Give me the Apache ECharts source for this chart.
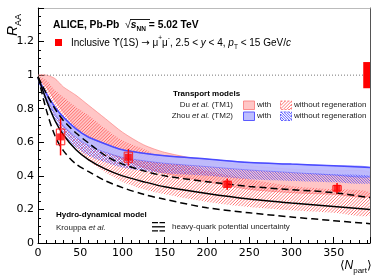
<!DOCTYPE html>
<html><head><meta charset="utf-8">
<script src="https://cdn.jsdelivr.net/npm/echarts@6.0.0/dist/echarts.min.js"></script>
<style>html,body{margin:0;padding:0;background:#fff}#c{width:382px;height:277px}</style>
</head><body><div id="c"></div>
<script>
// ---- data ----
const npartGrid = [0, 10, 20, 30, 45, 60, 80, 100, 125, 150, 200, 250, 300, 350, 393];
// Hydro-dynamical model (Krouppa et al.)
const hydroCentral = [0.99, 0.85, 0.73, 0.645, 0.555, 0.495, 0.44, 0.40, 0.365, 0.335, 0.295, 0.262, 0.238, 0.218, 0.20];
const hydroUpper   = [0.99, 0.89, 0.80, 0.73, 0.655, 0.595, 0.52, 0.47, 0.43, 0.40, 0.365, 0.337, 0.318, 0.30, 0.27];
const hydroLower   = [0.99, 0.79, 0.64, 0.55, 0.47, 0.425, 0.37, 0.33, 0.29, 0.26, 0.21, 0.18, 0.155, 0.133, 0.115];
// TM1 (Du et al.)
const tm1RegenHi   = [1.00, 1.00, 0.98, 0.93, 0.88, 0.82, 0.74, 0.66, 0.585, 0.54, 0.49, 0.46, 0.44, 0.43, 0.42];
const tm1RegenLo   = [0.98, 0.93, 0.85, 0.78, 0.69, 0.62, 0.55, 0.50, 0.45, 0.415, 0.365, 0.32, 0.30, 0.29, 0.28];
const tm1NoRegenHi = [0.99, 0.97, 0.91, 0.87, 0.81, 0.76, 0.68, 0.61, 0.56, 0.50, 0.43, 0.38, 0.34, 0.32, 0.30];
const tm1NoRegenLo = [0.98, 0.86, 0.76, 0.67, 0.57, 0.49, 0.42, 0.365, 0.32, 0.29, 0.245, 0.215, 0.195, 0.18, 0.165];
// TM2 (Zhou et al.)
const tm2RegenHi   = [0.98, 0.89, 0.81, 0.75, 0.68, 0.63, 0.59, 0.555, 0.535, 0.52, 0.50, 0.48, 0.47, 0.46, 0.45];
const tm2RegenLo   = [0.97, 0.86, 0.77, 0.70, 0.63, 0.58, 0.54, 0.51, 0.49, 0.475, 0.455, 0.435, 0.42, 0.405, 0.395];
const tm2NoRegenHi = [0.97, 0.86, 0.77, 0.70, 0.63, 0.58, 0.54, 0.51, 0.49, 0.475, 0.455, 0.435, 0.42, 0.41, 0.40];
const tm2NoRegenLo = [0.96, 0.83, 0.73, 0.65, 0.57, 0.52, 0.48, 0.45, 0.43, 0.415, 0.40, 0.38, 0.37, 0.362, 0.355];
// ALICE data
const dataNpart = [26.7, 107, 224, 354];
const dataRaa   = [0.632, 0.511, 0.35, 0.326];
const dataStat  = [0.11, 0.05, 0.033, 0.031];
const dataSyst  = [0.047, 0.03, 0.018, 0.016];
const boxHalfWidth = 5;
const globalUnc = [385, 393, 1, 0.078]; // xFrom, xTo, centre, half-height
const xTicks = [0, 50, 100, 150, 200, 250, 300, 350];
const yTicks = [0, 0.2, 0.4, 0.6, 0.8, 1, 1.2];

// ---- style constants ----
const PINK_FILL = 'rgba(255,120,120,0.42)';
const PINK_LINE = 'rgba(255,95,95,0.85)';
const BLUE_FILL = 'rgba(185,185,255,0.92)';
const BLUE_LINE = 'rgba(60,60,255,0.85)';

// hatch line segments inside a pixel rectangle
function hatchSegs(x0, y0, w, h, step, dir) {
  const out = [];
  if (dir === '/') {
    for (let d = step / 2; d < w + h; d += step) {
      const u1 = Math.max(0, d - h), u2 = Math.min(w, d);
      out.push([x0 + u1, y0 + d - u1, x0 + u2, y0 + d - u2]);
    }
  } else {
    for (let d = -h + step / 2; d < w; d += step) {
      const u1 = Math.max(0, d), u2 = Math.min(w, d + h);
      out.push([x0 + u1, y0 + u1 - d, x0 + u2, y0 + u2 - d]);
    }
  }
  return out;
}
function segEls(segs, color, lw) {
  return segs.map(s => ({ type: 'line', shape: { x1: s[0], y1: s[1], x2: s[2], y2: s[3] }, style: { stroke: color, lineWidth: lw } }));
}

function bandPoints(api, upper, lower) {
  const pts = [];
  for (let i = 0; i < npartGrid.length; i++) pts.push(api.coord([npartGrid[i], upper[i]]));
  for (let i = npartGrid.length - 1; i >= 0; i--) pts.push(api.coord([npartGrid[i], lower[i]]));
  return pts;
}
function band(upper, lower, style, z) {
  return {
    type: 'custom', coordinateSystem: 'cartesian2d', clip: true, silent: true, z: z,
    data: [[100, 0.5]], encode: { x: 0, y: 1 },
    renderItem: function (params, api) {
      return { type: 'polygon', shape: { points: bandPoints(api, upper, lower), smooth: 0.25 }, style: style };
    }
  };
}
function hatchBand(upper, lower, color, step, dir, lw, z) {
  return {
    type: 'custom', coordinateSystem: 'cartesian2d', clip: true, silent: true, z: z,
    data: [[100, 0.5]], encode: { x: 0, y: 1 },
    renderItem: function (params, api) {
      const cs = params.coordSys;
      return {
        type: 'group',
        clipPath: { type: 'polygon', shape: { points: bandPoints(api, upper, lower), smooth: 0.25 } },
        children: segEls(hatchSegs(cs.x, cs.y, cs.width, cs.height, step, dir), color, lw)
      };
    }
  };
}
function curve(vals, color, width, type, z) {
  return {
    type: 'line', data: npartGrid.map((x, i) => [x, vals[i]]), smooth: 0.3, symbol: 'none', silent: true, z: z,
    lineStyle: { color: color, width: width, type: type }
  };
}
function swatchHatch(x, y, w, h, color, step, dir, border) {
  return { type: 'group', children: segEls(hatchSegs(x, y, w, h, step, dir), color, 1).concat([
    { type: 'rect', shape: { x: x, y: y, width: w, height: h }, style: { fill: null, stroke: border, lineWidth: 1, lineDash: [2, 1.5] } }
  ]) };
}

const chart = echarts.init(document.getElementById('c'), null, { renderer: 'canvas' });
const axisFont = 'DejaVu Sans';
const TF = 'Liberation Sans';
const option = {
  animation: false,
  grid: { left: 38, right: 12, top: 8, bottom: 34 },
  xAxis: [{
    type: 'value', min: 0, max: 393, interval: 50,
    axisLine: { onZero: false, lineStyle: { color: '#000', width: 1 } },
    axisTick: { inside: true, length: 6, lineStyle: { color: '#000' } },
    minorTick: { show: true, splitNumber: 5, length: 3, lineStyle: { color: '#000' } },
    axisLabel: { fontSize: 11, color: '#000', fontFamily: axisFont, margin: 5, showMaxLabel: false,
      formatter: v => (xTicks.indexOf(v) >= 0 ? String(v) : '') },
    splitLine: { show: false }
  }, {
    type: 'value', position: 'top', min: 0, max: 393,
    axisLine: { onZero: false, lineStyle: { color: '#bbb' } }, axisTick: { show: false }, axisLabel: { show: false }, splitLine: { show: false }
  }],
  yAxis: [{
    type: 'value', min: 0, max: 1.4, interval: 0.2,
    axisLine: { onZero: false, lineStyle: { color: '#000', width: 1 } },
    axisTick: { inside: true, length: 6, lineStyle: { color: '#000' } },
    minorTick: { show: true, splitNumber: 4, length: 3, lineStyle: { color: '#000' } },
    axisLabel: { fontSize: 11, color: '#000', fontFamily: axisFont, margin: 4, showMaxLabel: false,
      formatter: v => (yTicks.some(t => Math.abs(t - v) < 1e-6) ? String(+v.toFixed(1)) : '') },
    splitLine: { show: false }
  }, {
    type: 'value', position: 'right', min: 0, max: 1.4,
    axisLine: { onZero: false, lineStyle: { color: '#555' } }, axisTick: { show: false }, axisLabel: { show: false }, splitLine: { show: false }
  }],
  series: [
    band(tm1RegenHi, tm1RegenLo, { fill: PINK_FILL, stroke: 'rgba(250,120,120,0.6)', lineWidth: 1 }, 1),
    hatchBand(tm1NoRegenHi, tm1NoRegenLo, PINK_LINE, 3.2, '/', 1, 2),
    band(tm2RegenHi, tm2RegenLo, { fill: BLUE_FILL, stroke: 'rgba(110,110,255,0.6)', lineWidth: 1 }, 3),
    hatchBand(tm2NoRegenHi, tm2NoRegenLo, BLUE_LINE, 2.6, '\\', 0.9, 4),
    curve(tm2RegenHi, '#4a4aff', 1.5, 'solid', 5),
    curve(hydroCentral, '#000', 1.5, 'solid', 6),
    curve(hydroUpper, '#000', 1.5, [7, 4], 6),
    curve(hydroLower, '#000', 1.5, [7, 4], 6),
    {
      type: 'line', data: [[0, 1], [393, 1]], symbol: 'none', silent: true, z: 7,
      lineStyle: { color: '#777', width: 1, type: [1, 2] }
    },
    {
      type: 'custom', coordinateSystem: 'cartesian2d', clip: false, silent: true, z: 8,
      data: dataNpart.map((x, i) => [x, dataRaa[i], dataStat[i], dataSyst[i]]),
      renderItem: function (params, api) {
        const x = api.value(0), y = api.value(1), st = api.value(2), sy = api.value(3);
        const pHi = api.coord([x, y + st]), pLo = api.coord([x, y - st]);
        const b1 = api.coord([x - boxHalfWidth, y + sy]), b2 = api.coord([x + boxHalfWidth, y - sy]);
        return { type: 'group', children: [
          { type: 'line', shape: { x1: pHi[0], y1: pHi[1], x2: pLo[0], y2: pLo[1] }, style: { stroke: '#ff0000', lineWidth: 1.5 } },
          { type: 'rect', shape: { x: b1[0], y: b1[1], width: b2[0] - b1[0], height: b2[1] - b1[1] }, style: { fill: null, stroke: '#ff2020', lineWidth: 1 } }
        ] };
      }
    },
    {
      type: 'scatter', data: dataNpart.map((x, i) => [x, dataRaa[i]]), symbol: 'rect', symbolSize: 7, z: 9, silent: true,
      itemStyle: { color: '#ff0000' }
    },
    {
      type: 'custom', coordinateSystem: 'cartesian2d', clip: true, silent: true, z: 9,
      data: [globalUnc],
      renderItem: function (params, api) {
        const a = api.coord([api.value(0), api.value(2) + api.value(3)]);
        const b = api.coord([api.value(1), api.value(2) - api.value(3)]);
        return { type: 'rect', shape: { x: a[0], y: a[1], width: b[0] - a[0], height: b[1] - a[1] }, style: { fill: '#ff0000' } };
      }
    }
  ],
  graphic: { elements: [
    // y title
    { type: 'text', x: 6, y: 36, rotation: Math.PI / 2, style: {
      text: '{r|R}{s|AA}', verticalAlign: 'top',
      rich: { r: { font: 'italic 14px ' + TF, fill: '#000', lineHeight: 14, verticalAlign: 'top' },
              s: { font: '9px ' + TF, fill: '#000', lineHeight: 17, verticalAlign: 'bottom' } } } },
    // x title
    { type: 'text', x: 372, y: 266, style: {
      text: '{a|⟨}{n|N}{s|part}{a|⟩}', align: 'right', verticalAlign: 'middle',
      rich: { a: { font: '12px ' + TF, fill: '#000', lineHeight: 14 },
              n: { font: 'italic 12px ' + TF, fill: '#000', lineHeight: 14 },
              s: { font: '8px ' + TF, fill: '#000', lineHeight: 18, verticalAlign: 'bottom' } } } },
    // header
    { type: 'text', x: 53, y: 25, style: {
      text: '{b|ALICE, Pb-Pb  }{r|√}{bi|s}{s|NN}{b| = 5.02 TeV}', verticalAlign: 'middle',
      rich: { b: { font: 'bold 10.3px ' + TF, fill: '#000', lineHeight: 12 },
              r: { font: '10.5px ' + TF, fill: '#000', lineHeight: 12 },
              bi: { font: 'bold italic 10.3px ' + TF, fill: '#000', lineHeight: 12 },
              s: { font: 'bold 6.5px ' + TF, fill: '#000', lineHeight: 16, verticalAlign: 'bottom' } } } },
    { type: 'line', shape: { x1: 130, y1: 19.5, x2: 150, y2: 19.5 }, style: { stroke: '#000', lineWidth: 0.9 } },
    { type: 'rect', shape: { x: 55, y: 39, width: 7, height: 7 }, style: { fill: '#ff0000' } },
    { type: 'text', x: 71, y: 43, style: {
      text: '{n|Inclusive }{u|ϒ}{n|(1S) }{u|→}{n| μ}{p|+}{n|μ}{p|-}{n|, 2.5 < }{i|y}{n| < 4, }{i|p}{s|T}{n| < 15 GeV/}{i|c}', verticalAlign: 'middle',
      rich: { n: { font: '10px ' + TF, fill: '#000', lineHeight: 12 },
              u: { font: '10px DejaVu Sans', fill: '#000', lineHeight: 12 },
              i: { font: 'italic 10px ' + TF, fill: '#000', lineHeight: 12 },
              p: { font: '6.5px ' + TF, fill: '#000', lineHeight: 16, verticalAlign: 'top' },
              s: { font: '6.5px ' + TF, fill: '#000', lineHeight: 16, verticalAlign: 'bottom' } } } },
    // transport models legend
    { type: 'text', x: 173, y: 94, style: { text: 'Transport models', font: 'bold 8px ' + TF, fill: '#000', verticalAlign: 'middle' } },
    { type: 'text', x: 233, y: 105, style: { text: '{n|Du }{i|et al.}{n| (TM1)}', align: 'right', verticalAlign: 'middle',
      rich: { n: { font: '8px ' + TF, fill: '#222' }, i: { font: 'italic 8px ' + TF, fill: '#222' } } } },
    { type: 'text', x: 233, y: 116, style: { text: '{n|Zhou }{i|et al.}{n| (TM2)}', align: 'right', verticalAlign: 'middle',
      rich: { n: { font: '8px ' + TF, fill: '#222' }, i: { font: 'italic 8px ' + TF, fill: '#222' } } } },
    { type: 'rect', shape: { x: 243.5, y: 101, width: 11, height: 8.5 }, style: { fill: PINK_FILL, stroke: 'rgba(250,120,120,0.8)', lineWidth: 1 } },
    { type: 'text', x: 257, y: 105, style: { text: 'with', font: '8px ' + TF, fill: '#222', verticalAlign: 'middle' } },
    swatchHatch(280.5, 101, 11, 8.5, PINK_LINE, 3.2, '/', 'rgba(255,110,110,0.8)'),
    { type: 'text', x: 294, y: 105, style: { text: 'without regeneration', font: '8px ' + TF, fill: '#222', verticalAlign: 'middle' } },
    { type: 'rect', shape: { x: 243.5, y: 112, width: 11, height: 8.5 }, style: { fill: BLUE_FILL, stroke: '#5a5aff', lineWidth: 1 } },
    { type: 'text', x: 257, y: 116, style: { text: 'with', font: '8px ' + TF, fill: '#222', verticalAlign: 'middle' } },
    swatchHatch(280.5, 112, 11, 8.5, BLUE_LINE, 2.6, '\\', 'rgba(70,70,255,0.8)'),
    { type: 'text', x: 294, y: 116, style: { text: 'without regeneration', font: '8px ' + TF, fill: '#222', verticalAlign: 'middle' } },
    // hydro legend
    { type: 'text', x: 56, y: 215, style: { text: 'Hydro-dynamical model', font: 'bold 8px ' + TF, fill: '#000', verticalAlign: 'middle' } },
    { type: 'text', x: 56, y: 227.5, style: { text: '{n|Krouppa }{i|et al.}', verticalAlign: 'middle',
      rich: { n: { font: '8px ' + TF, fill: '#222' }, i: { font: 'italic 8px ' + TF, fill: '#222' } } } },
    { type: 'line', shape: { x1: 152, y1: 222.7, x2: 165, y2: 222.7 }, style: { stroke: '#000', lineWidth: 1.3, lineDash: [6, 1.5] } },
    { type: 'line', shape: { x1: 152, y1: 226.8, x2: 165, y2: 226.8 }, style: { stroke: '#000', lineWidth: 1.3 } },
    { type: 'line', shape: { x1: 152, y1: 230.9, x2: 165, y2: 230.9 }, style: { stroke: '#000', lineWidth: 1.3, lineDash: [6, 1.5] } },
    { type: 'text', x: 172, y: 227, style: { text: 'heavy-quark potential uncertainty', font: '8px ' + TF, fill: '#222', verticalAlign: 'middle' } }
  ] }
};
chart.setOption(option);
</script></body></html>
